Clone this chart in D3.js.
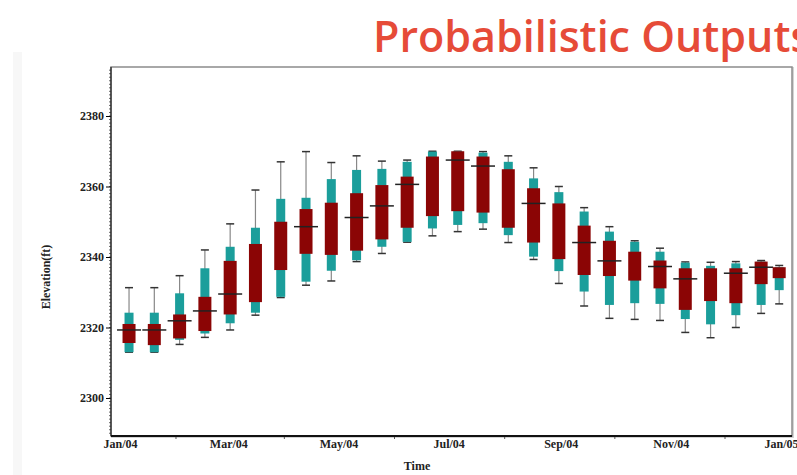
<!DOCTYPE html>
<html>
<head>
<meta charset="utf-8">
<script src="https://cdn.jsdelivr.net/npm/d3@7"></script>
<style>
  body { margin: 0; background: #fff; }
  svg { display: block; }
</style>
</head>
<body>
<svg id="chart" width="797" height="475"></svg>
<script>
// biweekly forecast dates
const dates = ['2004-01-06', '2004-01-20', '2004-02-03', '2004-02-17', '2004-03-02', '2004-03-16',
  '2004-03-30', '2004-04-13', '2004-04-27', '2004-05-11', '2004-05-25', '2004-06-08', '2004-06-22',
  '2004-07-06', '2004-07-20', '2004-08-03', '2004-08-17', '2004-08-31', '2004-09-14', '2004-09-28',
  '2004-10-12', '2004-10-26', '2004-11-09', '2004-11-23', '2004-12-07', '2004-12-21', '2004-12-31'];

const maxVals = [2331.3, 2331.3, 2334.7, 2342, 2349.4, 2359, 2367, 2369.9, 2366.8, 2368.7, 2367.2, 2367.5, 2370,
  2370, 2369.9, 2368.7, 2365.3, 2360, 2354, 2348.6, 2344.6, 2342.5, 2338.6, 2338.5, 2338.7, 2339, 2337.6];
const p90 = [2324.2, 2324.2, 2329.7, 2336.8, 2342.9, 2348.3, 2356.5, 2356.8, 2362.1, 2364.7, 2365, 2367, 2369.9,
  2370, 2369.6, 2367, 2362.3, 2358.4, 2352.9, 2347.2, 2344.3, 2341.5, 2338.4, 2337.5, 2338.2, 2338.7, 2337.1];
const q3 = [2321, 2321, 2323.7, 2328.7, 2338.9, 2343.7, 2350, 2353.6, 2355.4, 2358.1, 2360.4, 2362.8, 2368.5,
  2370, 2368.5, 2364.9, 2359.5, 2355.2, 2348.9, 2344.6, 2341.5, 2339, 2336.8, 2336.8, 2336.8, 2338.7, 2337.1];
const medians = [2319.3, 2319.3, 2321.9, 2324.7, 2329.5, null, null, 2348.6, null, 2351.2, 2354.5, 2360.6, null,
  2367.5, 2365.8, null, 2355.2, null, 2344.1, 2338.9, null, 2337.3, 2333.8, null, 2335.4, 2337.1, null];
const q1 = [2315.6, 2315, 2316.9, 2319, 2323.7, 2327.2, 2336.3, 2340.9, 2340.6, 2341.8, 2345, 2348.3, 2351.6,
  2353, 2352.6, 2348.3, 2344.1, 2339.4, 2334.9, 2334.6, 2333.3, 2331.1, 2325, 2327.5, 2326.9, 2332.3, 2334];
const p10 = [2313, 2313, 2316.5, 2318.3, 2321.2, 2324.2, 2328.7, 2333, 2336.1, 2339.1, 2342.9, 2344.3, 2348.1,
  2349.1, 2349.6, 2346.2, 2340.1, 2336, 2330.2, 2326.4, 2326.9, 2326.7, 2322.4, 2320.9, 2323.5, 2326.4, 2330.6];
const minVals = [2313, 2313, 2315.2, 2317.2, 2319.3, 2323.5, 2328.5, 2332, 2333.2, 2338.7, 2341, 2344.2, 2346,
  2347.2, 2347.9, 2344.1, 2339.3, 2332.5, 2326.1, 2322.6, 2322.3, 2322, 2318.6, 2317.1, 2320, 2324, 2326.7];

const yTicks = [2300, 2320, 2340, 2360, 2380];
const xTickMonths = ['2004-01-01', '2004-03-01', '2004-05-01', '2004-07-01', '2004-09-01', '2004-11-01', '2005-01-01'];

const parse = d3.timeParse('%Y-%m-%d');
const rows = dates.map((d, i) => ({
  date: parse(d), max: maxVals[i], hi: p90[i], q3: q3[i], med: medians[i], q1: q1[i], lo: p10[i], min: minVals[i]
}));

const svg = d3.select('#chart');
const frame = { left: 111, right: 792, top: 67, bottom: 436 };

const x = d3.scaleTime()
  .domain([parse('2004-01-01'), parse('2005-01-01')])
  .range([120, 781]);

const y = d3.scaleLinear()
  .domain([2300, 2380])
  .range([398, 116]);

// faint strip on the left edge of the slide
svg.append('rect').attr('x', 13).attr('y', 52).attr('width', 9).attr('height', 423).attr('fill', '#f7f7f7');

// title (runs off the right edge, as in the slide)
svg.append('text')
  .attr('x', 373).attr('y', 52)
  .attr('font-family', '"Open Sans", Lato, sans-serif')
  .attr('font-weight', 600)
  .attr('font-size', 43)
  .attr('fill', '#e64b38')
  .text('Probabilistic Outputs');

// plot frame
svg.append('rect')
  .attr('x', frame.left + 1).attr('y', frame.top + 1)
  .attr('width', frame.right - frame.left).attr('height', frame.bottom - frame.top)
  .attr('fill', 'none').attr('stroke', '#d4d4d4').attr('stroke-width', 2);
svg.append('rect')
  .attr('x', frame.left).attr('y', frame.top)
  .attr('width', frame.right - frame.left).attr('height', frame.bottom - frame.top)
  .attr('fill', '#fff').attr('stroke', '#8c8c8c').attr('stroke-width', 1.5);

// boxes
const g = svg.append('g');
const box = g.selectAll('g.box').data(rows).join('g').attr('class', 'box')
  .attr('transform', d => `translate(${x(d.date)},0)`);

box.append('line')
  .attr('y1', d => y(d.max)).attr('y2', d => y(d.min))
  .attr('stroke', '#888').attr('stroke-width', 1.2);

box.append('line')
  .attr('x1', -4).attr('x2', 4)
  .attr('y1', d => y(d.max)).attr('y2', d => y(d.max))
  .attr('stroke', '#333').attr('stroke-width', 1.5);
box.append('line')
  .attr('x1', -4).attr('x2', 4)
  .attr('y1', d => y(d.min)).attr('y2', d => y(d.min))
  .attr('stroke', '#333').attr('stroke-width', 1.5);

box.append('rect')
  .attr('x', -4.5).attr('width', 9)
  .attr('y', d => y(d.hi)).attr('height', d => y(d.lo) - y(d.hi))
  .attr('fill', '#1b9e9b');

box.append('rect')
  .attr('x', -6.5).attr('width', 13)
  .attr('y', d => y(d.q3)).attr('height', d => y(d.q1) - y(d.q3))
  .attr('fill', '#8b0505');

box.filter(d => d.med != null).append('line')
  .attr('x1', -12).attr('x2', 12)
  .attr('y1', d => y(d.med)).attr('y2', d => y(d.med))
  .attr('stroke', '#222').attr('stroke-width', 1.5);

// y axis
const yMinor = d3.range(2290, 2394, 1);
svg.append('g')
  .selectAll('line').data(yMinor).join('line')
  .attr('x1', frame.left - 2).attr('x2', frame.left)
  .attr('y1', d => y(d)).attr('y2', d => y(d))
  .attr('stroke', '#444').attr('stroke-width', 0.8);

const yAxis = svg.append('g')
  .attr('transform', `translate(${frame.left},0)`)
  .call(d3.axisLeft(y).tickValues(yTicks).tickSize(5).tickPadding(2).tickFormat(d3.format('d')));
yAxis.select('.domain').remove();
yAxis.selectAll('text')
  .attr('font-family', '"Liberation Serif", "DejaVu Serif", serif')
  .attr('font-weight', 700).attr('font-size', 12).attr('fill', '#222');
svg.append('line')
  .attr('x1', frame.left).attr('x2', frame.left)
  .attr('y1', frame.top).attr('y2', frame.bottom)
  .attr('stroke', '#222').attr('stroke-width', 1.2);

// x axis
const xAxis = svg.append('g')
  .attr('transform', `translate(0,${frame.bottom})`)
  .call(d3.axisBottom(x).tickValues(xTickMonths.map(parse)).tickSize(0).tickPadding(3)
    .tickFormat(d3.timeFormat('%b/%y')));
xAxis.select('.domain').remove();
xAxis.selectAll('text')
  .attr('font-family', '"Liberation Serif", "DejaVu Serif", serif')
  .attr('font-weight', 700).attr('font-size', 12).attr('fill', '#222');

svg.append('g')
  .selectAll('line').data(d3.timeMonths(parse('2004-02-01'), parse('2005-01-01'), 2)).join('line')
  .attr('x1', d => x(d)).attr('x2', d => x(d))
  .attr('y1', frame.bottom).attr('y2', frame.bottom + 3)
  .attr('stroke', '#555');

svg.append('line')
  .attr('x1', frame.left).attr('x2', frame.right)
  .attr('y1', frame.bottom).attr('y2', frame.bottom)
  .attr('stroke', '#111').attr('stroke-width', 2.2);

// axis titles
svg.append('text')
  .attr('x', 417).attr('y', 470)
  .attr('text-anchor', 'middle')
  .attr('font-family', '"Liberation Serif", "DejaVu Serif", serif')
  .attr('font-weight', 700).attr('font-size', 12).attr('fill', '#222')
  .text('Time');

svg.append('text')
  .attr('transform', 'translate(50,277) rotate(-90)')
  .attr('text-anchor', 'middle')
  .attr('font-family', '"Liberation Serif", "DejaVu Serif", serif')
  .attr('font-weight', 700).attr('font-size', 12).attr('fill', '#222')
  .text('Elevation(ft)');
</script>
</body>
</html>
